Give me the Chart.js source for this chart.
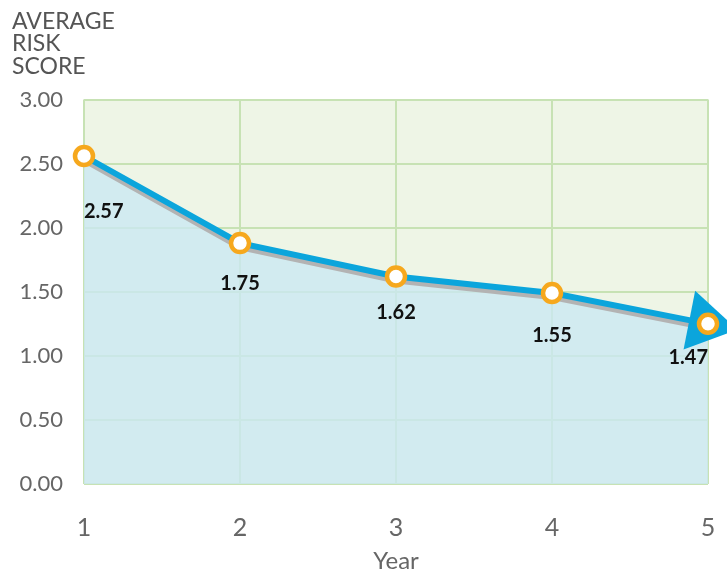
<!DOCTYPE html>
<html><head><meta charset="utf-8">
<script src="https://cdn.jsdelivr.net/npm/chart.js@4/dist/chart.umd.min.js"></script>
<style>html,body{margin:0;padding:0;background:#fff}#wrap{width:727px;height:571px}</style>
</head><body><div id="wrap"><canvas id="c" width="727" height="571"></canvas></div>
<script>
// ---- data ----
const years = ['1', '2', '3', '4', '5'];
const riskScores = [2.56, 1.88, 1.62, 1.49, 1.25];
const valueLabels = ['2.57', '1.75', '1.62', '1.55', '1.47'];
const yTickValues = [0, 0.5, 1, 1.5, 2, 2.5, 3];
const yAxisTitleLines = ['AVERAGE', 'RISK', 'SCORE'];
const xAxisTitle = 'Year';

// ---- styles ----
const FONT = "Lato, 'Open Sans', sans-serif";
const GRID = '#c7e2b4';
const PLOT_BG = '#eef5e6';
const FILL = 'rgba(202,232,242,0.78)';
const LINE_BLUE = '#0ba5dc';
const SHADOW = '#b3b3b3';
const ORANGE = '#f6a81d';

Chart.defaults.font.family = FONT;

const plotBg = {
  id: 'plotBg',
  beforeDraw(chart) {
    const {ctx, chartArea: a} = chart;
    ctx.save();
    ctx.fillStyle = PLOT_BG;
    ctx.fillRect(a.left, a.top, a.right - a.left, a.bottom - a.top);
    ctx.restore();
  }
};

const shadowAndArrow = {
  id: 'shadowAndArrow',
  beforeDatasetDraw(chart, args) {
    if (args.index === 0) { chart.ctx.save(); chart.ctx.translate(0, 4); }
  },
  afterDatasetDraw(chart, args) {
    if (args.index !== 0) return;
    const ctx = chart.ctx;
    ctx.restore();
    const pts = chart.getDatasetMeta(1).data;
    const p = pts[pts.length - 1], q = pts[pts.length - 2];
    const dx = p.x - q.x, dy = p.y - q.y, len = Math.hypot(dx, dy);
    const ux = dx / len, uy = dy / len, nx = -uy, ny = ux;
    const back = 19, ahead = 30, half = 30;
    ctx.save();
    ctx.fillStyle = LINE_BLUE;
    ctx.beginPath();
    ctx.moveTo(p.x + ux * ahead, p.y + uy * ahead);
    ctx.lineTo(p.x - ux * back + nx * half, p.y - uy * back + ny * half);
    ctx.lineTo(p.x - ux * back - nx * half, p.y - uy * back - ny * half);
    ctx.closePath();
    ctx.fill();
    ctx.restore();
  }
};

const valueLabelPlugin = {
  id: 'valueLabelPlugin',
  afterDatasetsDraw(chart, args, opts) {
    const ctx = chart.ctx;
    const pts = chart.getDatasetMeta(1).data;
    ctx.save();
    ctx.font = 'bold 20px ' + FONT;
    ctx.fillStyle = '#111';
    ctx.textBaseline = 'middle';
    pts.forEach((pt, i) => {
      ctx.textAlign = i === 0 ? 'left' : (i === pts.length - 1 ? 'right' : 'center');
      ctx.fillText(valueLabels[i], pt.x, pt.y + opts.offsets[i]);
    });
    ctx.restore();
  }
};

new Chart(document.getElementById('c'), {
  type: 'line',
  data: {
    labels: years,
    datasets: [
      {
        data: riskScores,
        borderColor: SHADOW,
        borderWidth: 6,
        pointRadius: 0,
        fill: 'origin',
        backgroundColor: FILL,
        tension: 0,
        order: 2,
        clip: false
      },
      {
        data: riskScores,
        borderColor: LINE_BLUE,
        borderWidth: 6,
        pointRadius: 9,
        pointBorderWidth: 4.5,
        pointBorderColor: ORANGE,
        pointBackgroundColor: '#ffffff',
        fill: false,
        tension: 0,
        order: 1,
        clip: false
      }
    ]
  },
  options: {
    responsive: false,
    animation: false,
    devicePixelRatio: 1,
    layout: {padding: {left: 12, right: 19, top: 0, bottom: 0}},
    plugins: {
      legend: {display: false},
      tooltip: {enabled: false},
      title: {
        display: true,
        text: yAxisTitleLines,
        align: 'start',
        color: '#555',
        font: {size: 23, weight: 'normal', lineHeight: 0.98},
        padding: {top: 10, bottom: 22}
      },
      valueLabelPlugin: {offsets: [56, 40, 36, 42, 34]}
    },
    scales: {
      x: {
        type: 'category',
        offset: false,
        grid: {color: GRID, lineWidth: 2, drawTicks: false},
        border: {display: false},
        ticks: {color: '#666', font: {size: 25}, padding: 29, maxRotation: 0},
        title: {display: true, text: xAxisTitle, color: '#666', font: {size: 24, lineHeight: 0.85}, padding: 0},
        afterFit(s) { s.height = 87; s.paddingLeft = 0; s.paddingRight = 0; }
      },
      y: {
        min: 0, max: 3,
        afterBuildTicks(s) { s.ticks = yTickValues.map(v => ({value: v})); },
        grid: {color: GRID, lineWidth: 2, drawTicks: false},
        border: {display: false},
        ticks: {color: '#666', font: {size: 22}, padding: 21, callback: v => Number(v).toFixed(2)},
        afterFit(s) { s.width = 72; }
      }
    }
  },
  plugins: [plotBg, shadowAndArrow, valueLabelPlugin]
});
</script>
</body></html>
